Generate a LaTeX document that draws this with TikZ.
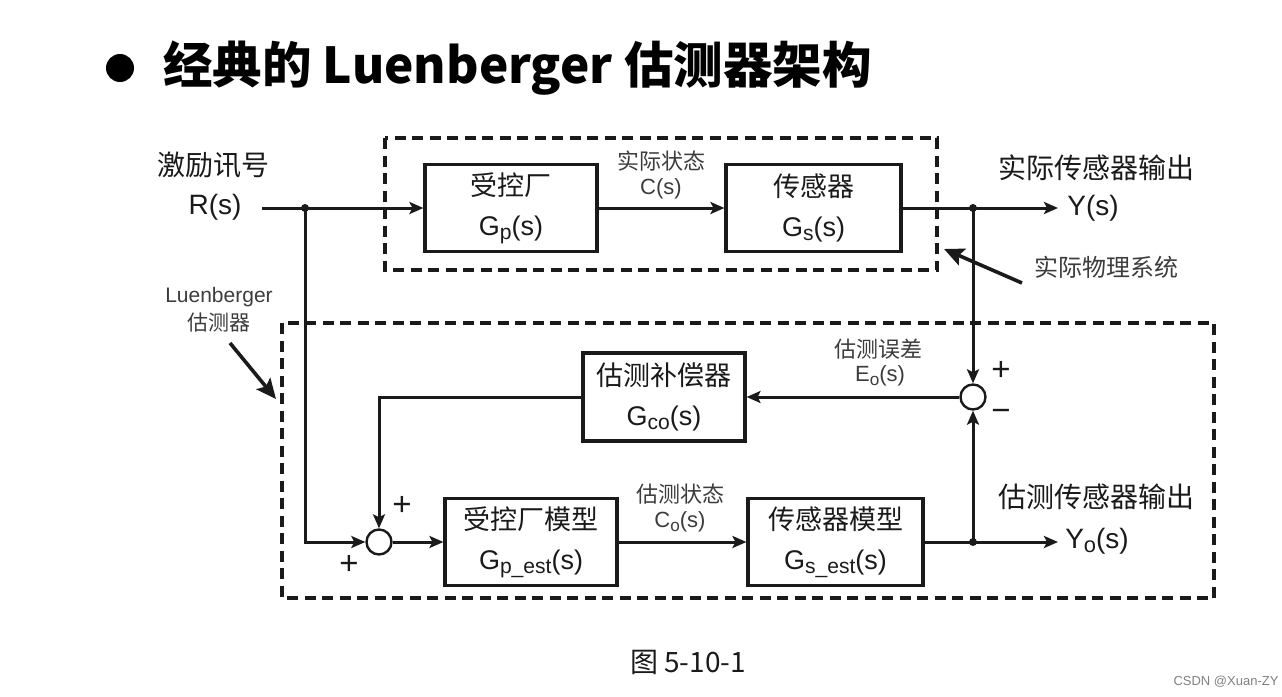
\documentclass[tikz,border=0pt]{standalone}
\usepackage{fontspec}
\usepackage{graphicx}
\setmainfont{Liberation Sans}
\newfontfamily\cjk{Noto Sans CJK SC}
\usetikzlibrary{arrows.meta}
\newcommand\lsub[1]{\raisebox{-0.3ex}{\scalebox{0.78}{#1}}}
\definecolor{ink}{HTML}{1A1A1A}
\tikzset{
  box/.style={draw=ink, line width=3.1pt, minimum width=#1, minimum height=87pt, align=center, inner sep=0pt, font=\fontsize{27}{40}\selectfont, text=ink},
  box/.default=172pt,
  wire/.style={draw=ink, line width=3pt},
  arr/.style={wire, -{Stealth[length=14pt,width=12pt,inset=3pt]}},
  callout/.style={draw=ink, line width=3.6pt, -{Stealth[length=20pt,width=18pt,inset=4pt]}},
  dbox/.style={draw=ink, line width=3.3pt, dash pattern=on 11pt off 6.5pt},
  sumj/.style={circle, draw=ink, line width=2.4pt, minimum size=25pt, inner sep=0pt, fill=white},
  dot/.style={circle, fill=ink, minimum size=8pt, inner sep=0pt},
  lbl/.style={text=ink, inner sep=0pt, font=\fontsize{28}{30}\selectfont},
  slbl/.style={text=ink!85, inner sep=0pt, font=\fontsize{22}{24}\selectfont},
  sign/.style={text=ink, inner sep=0pt, font=\fontsize{33}{34}\selectfont},
}
\begin{document}
\begin{tikzpicture}[x=1pt,y=-1pt]
\useasboundingbox (0,0) rectangle (1282,696);
% title
\node[circle, fill=black, minimum size=28pt, inner sep=0pt] (bullet) at (120,68) {};
\node[anchor=west, inner sep=0pt, font=\cjk\bfseries\fontsize{49.5}{52}\selectfont] (title) at (163,68) {经典的 Luenberger 估测器架构};
% dashed frames
\draw[dbox] (385,138) rectangle (937,270);
\draw[dbox] (282,323) rectangle (1214,598);
% blocks
\node[box=172pt] (gp) at (511,208) {{\cjk 受控厂}\\G\lsub{p}(s)};
\node[box=175pt] (gs) at (813.5,208) {{\cjk 传感器}\\G\lsub{s}(s)};
\node[box=162pt, minimum height=88pt] (gco) at (664,397) {{\cjk 估测补偿器}\\G\lsub{co}(s)};
\node[box=172pt] (gpe) at (531,542) {{\cjk 受控厂模型}\\G\lsub{p\_est}(s)};
\node[box=175pt] (gse) at (835.5,542) {{\cjk 传感器模型}\\G\lsub{s\_est}(s)};
\node[sumj] (sum1) at (379,542) {};
\node[sumj] (sum2) at (973,397) {};
% junctions and ends
\coordinate (rin) at (262,208);
\node[dot] (j1) at (305,208) {};
\node[dot] (j2) at (973,208) {};
\node[dot] (j3) at (973,542) {};
\coordinate (yout) at (1058,208);
\coordinate (yoout) at (1058,542);
% connectors
\draw[wire] (rin) -- (j1.center);
\draw[arr] (j1.center) -- (gp.west);
\draw[arr] (gp.east) -- (gs.west);
\draw[wire] (gs.east) -- (j2.center);
\draw[arr] (j2.center) -- (yout);
\draw[arr] (j2.center) -- (sum2.north);
\draw[arr] (j1.center) |- (sum1.west);
\draw[arr] (sum1.east) -- (gpe.west);
\draw[arr] (gpe.east) -- (gse.west);
\draw[wire] (gse.east) -- (j3.center);
\draw[arr] (j3.center) -- (yoout);
\draw[arr] (j3.center) -- (sum2.south);
\draw[arr] (sum2.west) -- (gco.east);
\draw[arr] (gco.west) -| (sum1.north);
% labels
\node[lbl, font=\cjk\fontsize{28}{30}\selectfont] (exc) at (213,165) {激励讯号};
\node[lbl] (rs) at (215,207) {R(s)};
\node[slbl, font=\cjk\fontsize{22}{24}\selectfont] (cst) at (661,161) {实际状态};
\node[slbl] (cs) at (661,189) {C(s)};
\node[lbl, font=\cjk\fontsize{28}{30}\selectfont] (yl) at (1096,168) {实际传感器输出};
\node[lbl] (ys) at (1093,208) {Y(s)};
\node[slbl, font=\cjk\fontsize{24}{26}\selectfont] (phys) at (1106,267) {实际物理系统};
\node[slbl, font=\fontsize{21}{23}\selectfont] (lub) at (219,297) {Luenberger};
\node[slbl, font=\cjk\fontsize{21}{23}\selectfont] (lub2) at (219,323) {估测器};
\node[slbl, font=\cjk\fontsize{22}{24}\selectfont] (err) at (878,349) {估测误差};
\node[slbl] (eo) at (880,376) {E\lsub{o}(s)};
\node[sign] (p1) at (1001,371) {+};
\node[sign] (m1) at (1001,415) {−};
\node[sign] (p2) at (402,506) {+};
\node[sign] (p3) at (349,565) {+};
\node[slbl, font=\cjk\fontsize{22}{24}\selectfont] (est) at (680,494) {估测状态};
\node[slbl] (co) at (680,522) {C\lsub{o}(s)};
\node[lbl, font=\cjk\fontsize{28}{30}\selectfont] (yol) at (1096,497) {估测传感器输出};
\node[lbl] (yos) at (1097,541) {Y\lsub{o}(s)};
% callouts
\coordinate (physhead) at (944,249);
\coordinate (lubhead) at (276,399);
\draw[callout] (1022,283) -- (physhead);
\draw[callout] (230,343) -- (lubhead);
% caption
\node[lbl, font=\cjk\fontsize{28}{30}\selectfont] (cap) at (688,662) {图 5-10-1};
\node[text=black!50, inner sep=0pt, font=\fontsize{13}{14}\selectfont] (wm) at (1226,682) {CSDN @Xuan-ZY};
\end{tikzpicture}
\end{document}
